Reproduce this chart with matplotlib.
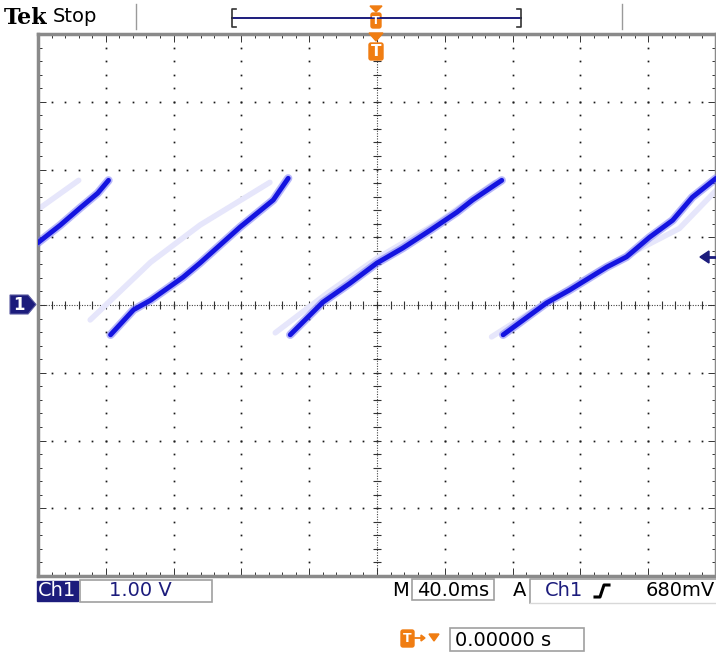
import numpy as np
import matplotlib
matplotlib.use("Agg")
import matplotlib.pyplot as plt
from matplotlib.patches import Polygon, Rectangle, FancyBboxPatch

# Trace segments (x, y in divisions, centre = 0)
seg1_x = [-5.0, -4.67, -4.37, -4.12, -3.96]
seg1_y = [0.92, 1.18, 1.44, 1.65, 1.84]
seg2_x = [-3.93, -3.59, -3.34, -2.86, -2.61, -2.02, -1.53, -1.31]
seg2_y = [-0.44, -0.07, 0.07, 0.41, 0.62, 1.15, 1.55, 1.87]
seg3_x = [-1.28, -0.80, -0.40, 0.0, 0.38, 0.78, 1.18, 1.41, 1.84]
seg3_y = [-0.44, 0.04, 0.32, 0.62, 0.84, 1.10, 1.37, 1.55, 1.84]
seg4_x = [1.86, 2.50, 2.84, 3.39, 3.68, 4.02, 4.36, 4.65, 5.0]
seg4_y = [-0.44, 0.03, 0.22, 0.56, 0.71, 1.00, 1.25, 1.59, 1.87]

# faint persistence traces
ghost1_x = [-4.96, -4.40]
ghost1_y = [1.44, 1.84]
ghost2_x = [-4.23, -3.34, -2.61, -1.58]
ghost2_y = [-0.22, 0.63, 1.18, 1.81]
ghost3_x = [-1.50, -0.70, 0.0, 0.90, 1.74]
ghost3_y = [-0.41, 0.20, 0.69, 1.22, 1.81]
ghost4_x = [1.69, 2.40, 3.28, 4.46, 5.0]
ghost4_y = [-0.47, -0.02, 0.52, 1.13, 1.69]

segments = [(seg1_x, seg1_y), (seg2_x, seg2_y), (seg3_x, seg3_y), (seg4_x, seg4_y)]
ghosts = [(ghost1_x, ghost1_y), (ghost2_x, ghost2_y), (ghost3_x, ghost3_y), (ghost4_x, ghost4_y)]

NAVY = '#1c1c7c'
ORANGE = '#f07d12'
BLUE = '#1414e0'

fig = plt.figure(figsize=(7.16, 6.54), dpi=100)
W, H = 716, 654

# graticule
ax = fig.add_axes([38 / W, (H - 576) / H, 678 / W, 542 / H])
ax.set_xlim(-5, 5)
ax.set_ylim(-4, 4)
ax.set_facecolor('white')
for s in ax.spines.values():
    s.set_color('#8a8a8a')
    s.set_linewidth(2.5)
ax.set_xticks(np.arange(-5, 5.01, 1))
ax.set_yticks(np.arange(-4, 4.01, 1))
ax.set_xticks(np.arange(-5, 5.01, 0.2), minor=True)
ax.set_yticks(np.arange(-4, 4.01, 0.2), minor=True)
ax.tick_params(which='both', direction='in', top=True, right=True,
               labelbottom=False, labelleft=False, color='#333333', width=0.7)
ax.tick_params(which='major', length=6)
ax.tick_params(which='minor', length=3)

# dotted grid
fine = np.arange(-5, 5.01, 0.2)
fine_y = np.arange(-4, 4.01, 0.2)
for gx in range(-4, 5):
    if gx != 0:
        ax.plot(np.full_like(fine_y, gx), fine_y, ls='none', marker='s', ms=1.25,
                mew=0, color='#1a1a1a', zorder=1)
for gy in range(-3, 4):
    if gy != 0:
        ax.plot(fine, np.full_like(fine, gy), ls='none', marker='s', ms=1.25,
                mew=0, color='#1a1a1a', zorder=1)
ax.axhline(0, color='#444444', lw=0.8, ls=(0, (1, 1.3)), zorder=1)
ax.axvline(0, color='#444444', lw=0.8, ls=(0, (1, 1.3)), zorder=1)
ax.plot(fine, np.zeros_like(fine), ls='none', marker='|', ms=6, mew=0.8,
        color='#333333', zorder=1)
ax.plot(np.zeros_like(fine_y), fine_y, ls='none', marker='_', ms=6, mew=0.8,
        color='#333333', zorder=1)

# waveform
for gxs, gys in ghosts:
    ax.plot(gxs, gys, color='#e6e6fb', lw=4, solid_capstyle='round', zorder=2)
for sx, sy in segments:
    ax.plot(sx, sy, color='#6f6ff5', lw=6, alpha=0.5, solid_capstyle='round', zorder=3)
    ax.plot(sx, sy, color=BLUE, lw=3.5, solid_capstyle='round', zorder=4)

# overlay in pixel coordinates for the instrument readouts
ov = fig.add_axes([0, 0, 1, 1], zorder=5)
ov.set_xlim(0, W)
ov.set_ylim(H, 0)
ov.axis('off')
ov.patch.set_alpha(0)

ov.text(4, 18, 'Tek', fontsize=16, fontweight='bold', family='DejaVu Serif',
        va='center', ha='left', color='black')
ov.text(53, 17, 'Stop', fontsize=14, va='center', ha='left', color='black')

# top separators and record bar
for xx in (136, 622):
    ov.plot([xx, xx], [4, 29], color='#9a9a9a', lw=1)
ov.plot([232, 521], [18, 18], color=NAVY, lw=1.4)
for xx, d in ((232, 1), (521, -1)):
    ov.plot([xx + 4 * d, xx, xx, xx + 4 * d], [9, 9, 27, 27], color='#333333', lw=1.2)
ov.add_patch(Polygon([[370, 6], [382, 6], [376, 12]], color=ORANGE))
ov.add_patch(FancyBboxPatch((371, 13), 10, 15, boxstyle='round,pad=0,rounding_size=2',
                            color=ORANGE))
ov.text(376, 21, 'T', fontsize=8, color='white', ha='center', va='center', fontweight='bold')

# trigger position marker inside the graticule
ov.add_patch(Polygon([[369, 33], [383, 33], [376, 41]], color=ORANGE, zorder=6))
ov.add_patch(FancyBboxPatch((369, 43), 14, 17, boxstyle='round,pad=0,rounding_size=2',
                            color=ORANGE, zorder=6))
ov.text(376, 52, 'T', fontsize=11, color='white', ha='center', va='center',
        fontweight='bold', zorder=7)

# channel 1 ground marker
ov.add_patch(Polygon([[10, 295], [28, 295], [36, 304.5], [28, 314], [10, 314]],
                     facecolor=NAVY, edgecolor='#5a5aa0', lw=0.8))
ov.text(19, 305, '1', fontsize=12, color='white', ha='center', va='center', fontweight='bold')

# trigger level arrow
ov.add_patch(Polygon([[700, 257], [709, 251], [709, 263]], color=NAVY))
ov.plot([708, 716], [257, 257], color=NAVY, lw=2)

# bottom readouts
ov.add_patch(Rectangle((37, 581), 41, 20, color=NAVY))
ov.text(57, 591, 'Ch1', fontsize=14, color='white', ha='center', va='center')
ov.add_patch(Rectangle((80, 580), 132, 22, fill=False, edgecolor='#a0a0a0', lw=1.2))
ov.text(140, 591, '1.00 V', fontsize=14, color=NAVY, ha='center', va='center')

ov.text(401, 591, 'M', fontsize=14, color='black', ha='center', va='center')
ov.add_patch(Rectangle((412, 579), 82, 21, fill=False, edgecolor='#a0a0a0', lw=1.2))
ov.text(453, 590, '40.0ms', fontsize=14, color='black', ha='center', va='center')
ov.text(520, 591, 'A', fontsize=14, color='black', ha='center', va='center')
ov.plot([530, 530, 716], [603, 579, 579], color='#a0a0a0', lw=1.2)
ov.plot([530, 716], [603, 603], color='#d8d8d8', lw=1.0)
ov.text(564, 591, 'Ch1', fontsize=14, color=NAVY, ha='center', va='center')
ov.plot([595, 600, 604, 609], [597, 597, 585, 585], color='black', lw=2.2)
ov.text(715, 591, '680mV', fontsize=14, color='black', ha='right', va='center')

ov.add_patch(FancyBboxPatch((401, 630), 13, 17, boxstyle='round,pad=0,rounding_size=2',
                            color=ORANGE))
ov.text(407.5, 638.5, 'T', fontsize=9, color='white', ha='center', va='center', fontweight='bold')
ov.plot([415, 424], [638, 638], color=ORANGE, lw=1.3)
ov.add_patch(Polygon([[421, 635], [421, 641], [425, 638]], color=ORANGE))
ov.add_patch(Polygon([[429, 634], [439, 634], [434, 641]], color=ORANGE))
ov.add_patch(Rectangle((450, 628), 134, 23, fill=False, edgecolor='#a0a0a0', lw=1.2))
ov.text(455, 640, '0.00000 s', fontsize=14, color='black', ha='left', va='center')

fig.savefig('out.png', dpi=100)
